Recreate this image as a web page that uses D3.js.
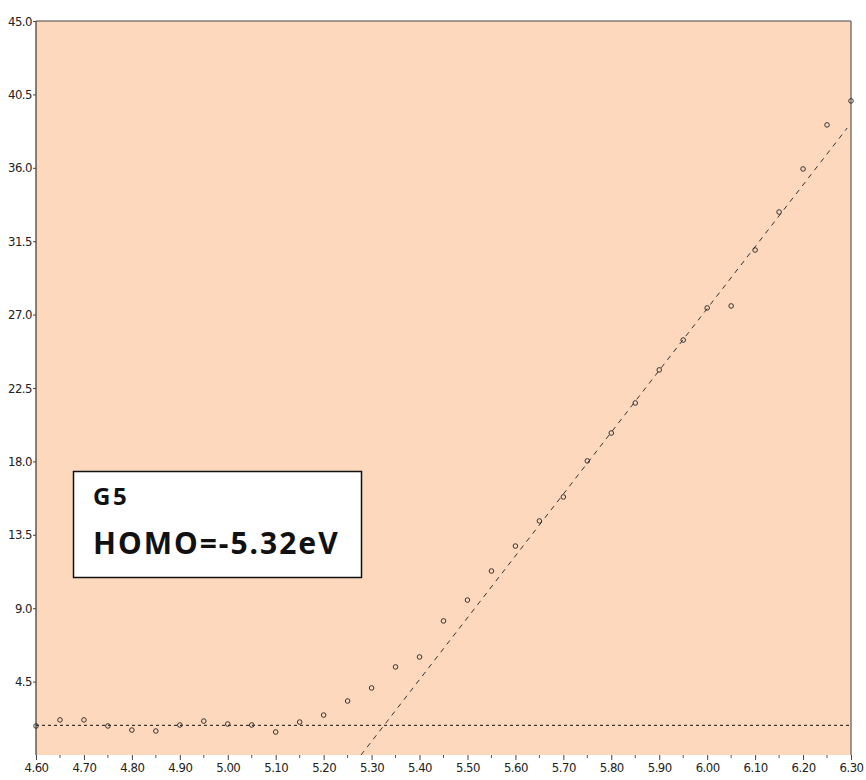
<!DOCTYPE html>
<html>
<head>
<meta charset="utf-8">
<script src="https://cdn.jsdelivr.net/npm/d3@7"></script>
<style>
  body { margin: 0; background: #fff; }
  svg { display: block; }
  .tick text { font-family: "Liberation Sans Narrow", "DejaVu Sans Condensed", "Liberation Sans", sans-serif; font-size: 13px; fill: #222; }
</style>
</head>
<body>
<svg></svg>
<script>
// photon energy (eV) of each measured point
const energies = [4.60, 4.65, 4.70, 4.75, 4.80, 4.85, 4.90, 4.95, 5.00, 5.05, 5.10, 5.15,
  5.20, 5.25, 5.30, 5.35, 5.40, 5.45, 5.50, 5.55, 5.60, 5.65, 5.70, 5.75, 5.80, 5.85,
  5.90, 5.95, 6.00, 6.05, 6.10, 6.15, 6.20, 6.25, 6.30];
// photoelectron yield
const yields = [1.78, 2.15, 2.15, 1.78, 1.53, 1.47, 1.84, 2.08, 1.90, 1.84, 1.41, 2.02,
  2.45, 3.31, 4.11, 5.40, 6.01, 8.22, 9.50, 11.28, 12.81, 14.35, 15.82, 18.03, 19.74, 21.58,
  23.61, 25.44, 27.41, 27.53, 30.96, 33.29, 35.93, 38.63, 40.10];
const baselineLevel = 1.82;
const fitLine = [[5.278, 0], [6.292, 38.44]];
const xTicks = [4.60, 4.70, 4.80, 4.90, 5.00, 5.10, 5.20, 5.30, 5.40, 5.50, 5.60, 5.70, 5.80, 5.90, 6.00, 6.10, 6.20, 6.30];
const yTicks = [4.5, 9.0, 13.5, 18.0, 22.5, 27.0, 31.5, 36.0, 40.5, 45.0];
const labelLines = ["G5", "HOMO=-5.32eV"];

let svg_width = 866, svg_height = 780;
let m_left = 36, m_right = 851, m_top = 21, m_bottom = 755;

let svg = d3.select('svg')
    .attr("width", svg_width)
    .attr("height", svg_height);

let scaled_x = d3.scaleLinear().domain([4.60, 6.30]).range([m_left, m_right]);
let scaled_y = d3.scaleLinear().domain([0, 45]).range([m_bottom, m_top]);

// plot background
svg.append('rect')
    .attr('x', m_left).attr('y', m_top)
    .attr('width', m_right - m_left).attr('height', m_bottom - m_top)
    .attr('fill', '#fdd8bd');

svg.append('defs').append('clipPath').attr('id', 'plot')
    .append('rect')
    .attr('x', m_left).attr('y', m_top)
    .attr('width', m_right - m_left).attr('height', m_bottom - m_top);

// minor ticks on x every 0.05
let minor = xTicks.slice(0, -1).map(v => v + 0.05);
svg.append('g').selectAll('line')
    .data(minor).enter().append('line')
    .attr('x1', d => scaled_x(d)).attr('x2', d => scaled_x(d))
    .attr('y1', m_bottom).attr('y2', m_bottom + 3)
    .attr('stroke', '#555');

let xAxis = svg.append('g')
    .attr('transform', `translate(0,${m_bottom})`)
    .call(d3.axisBottom(scaled_x).tickValues(xTicks).tickFormat(d3.format('.2f')).tickSize(5).tickPadding(3));
xAxis.select('.domain').remove();
xAxis.selectAll('.tick line').attr('stroke', '#444');

let yAxis = svg.append('g')
    .attr('transform', `translate(${m_left},0)`)
    .call(d3.axisLeft(scaled_y).tickValues(yTicks).tickFormat(d3.format('.1f')).tickSize(3).tickPadding(1));
yAxis.select('.domain').attr('d', `M0,${m_top}V${m_bottom}`).attr('stroke', '#111');
yAxis.selectAll('.tick line').attr('stroke', '#444');
yAxis.selectAll('.tick text').attr('letter-spacing', '-0.5');
xAxis.selectAll('.tick text').attr('letter-spacing', '-0.5');

// top and right frame
svg.append('line').attr('x1', m_left).attr('x2', m_right).attr('y1', m_top).attr('y2', m_top)
    .attr('stroke', '#444');
svg.append('line').attr('x1', m_right).attr('x2', m_right).attr('y1', m_top).attr('y2', m_bottom)
    .attr('stroke', '#777').attr('stroke-width', 1.5);

let plot = svg.append('g').attr('clip-path', 'url(#plot)');

// baseline level
plot.append('line')
    .attr('x1', m_left).attr('x2', m_right)
    .attr('y1', scaled_y(baselineLevel)).attr('y2', scaled_y(baselineLevel))
    .attr('stroke', '#111').attr('stroke-dasharray', '3,3');

// linear fit of the rising part
let lineGenerator = d3.line()
    .x(d => scaled_x(d[0]))
    .y(d => scaled_y(d[1]));
plot.append('path')
    .attr('fill', 'none')
    .attr('stroke', '#333')
    .attr('stroke-dasharray', '5,5')
    .attr('d', lineGenerator(fitLine));

// measured points
svg.append('g')
    .selectAll('circle')
    .data(energies).enter().append('circle')
    .attr('r', 2.3)
    .attr('fill', 'none').attr('stroke', '#333').attr('stroke-width', 1)
    .attr('cx', (d, i) => scaled_x(d))
    .attr('cy', (d, i) => scaled_y(yields[i]));

// label box
let box = svg.append('g');
box.append('rect')
    .attr('x', 73.5).attr('y', 471.5).attr('width', 288).attr('height', 106)
    .attr('fill', '#fff').attr('stroke', '#111').attr('stroke-width', 1.5);
box.selectAll('text')
    .data(labelLines).enter().append('text')
    .attr('x', 93)
    .attr('y', (d, i) => i === 0 ? 505 : 554)
    .attr('font-family', '"Noto Sans", sans-serif')
    .attr('font-weight', 'bold')
    .attr('font-size', (d, i) => i === 0 ? 24 : 30)
    .attr('letter-spacing', (d, i) => i === 0 ? 2.5 : 2)
    .attr('fill', '#111')
    .text(d => d);
</script>
</body>
</html>
